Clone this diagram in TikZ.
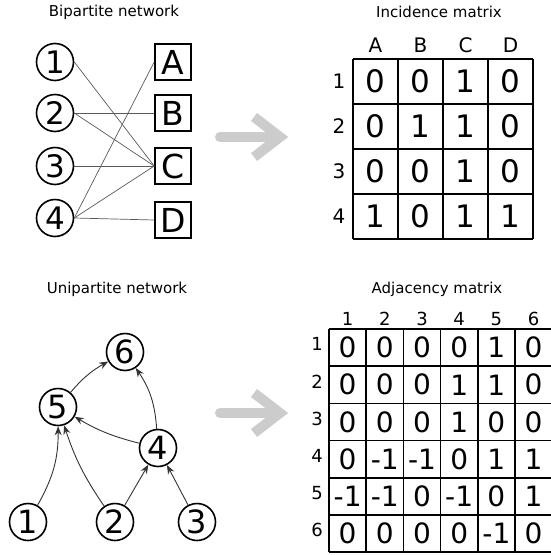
\documentclass[tikz,border=0pt]{standalone}
\usepackage{fontspec}
\setmainfont{DejaVu Sans}
\usetikzlibrary{arrows.meta}
\tikzset{
 title/.style={font=\fontsize{15}{17}\selectfont},
 lbl/.style={font=\fontsize{20}{22}\selectfont},
 slbl/.style={font=\fontsize{18}{20}\selectfont},
 bnode/.style={circle, draw, line width=1.6pt, minimum size=37pt, inner sep=0pt, font=\fontsize{31}{33}\selectfont},
 unode/.style={circle, draw, line width=1.6pt, minimum size=37pt, inner sep=0pt, font=\fontsize{32}{34}\selectfont},
 bbox/.style={rectangle, draw, line width=1.6pt, minimum size=36pt, inner sep=0pt, font=\fontsize{33}{35}\selectfont},
 link/.style={draw=black!65, line width=.7pt},
 dlink/.style={draw=black!80, line width=.9pt, -{Stealth[length=9pt,width=7pt]}},
 gline/.style={line width=1.6pt},
 cell/.style={font=\fontsize{31}{33}\selectfont},
 scell/.style={font=\fontsize{28}{30}\selectfont},
 bigarrow/.style={draw=black!20, line width=10pt}
}

\begin{document}
\begin{tikzpicture}[x=1pt, y=-1pt]
\useasboundingbox (0,0) rectangle (551,555);

% bipartite network
\node[title] (btitle) at (114,12) {Bipartite network};
\foreach \n/\y in {1/62,2/113,3/166,4/218}
 \node[bnode] (p\n) at (55,\y) {\n};
\foreach \n/\y in {A/62,B/113,C/166,D/220}
 \node[bbox] (q\n) at (173,\y) {\n};
\foreach \a/\b in {1/C,2/B,2/C,3/C,4/A,4/C,4/D}
 \draw[link] (p\a.east) -- (q\b.west);

% grey arrows
\foreach \y in {137,413} {
 \draw[bigarrow, line cap=round] (220,\y) -- (276,\y);
 \draw[bigarrow, miter limit=10] (254,\y-20) -- (280,\y) -- (254,\y+20);
}

% incidence matrix
\node[title] (ititle) at (439,12) {Incidence matrix};
\foreach \c [count=\i] in {A,B,C,D}
 \node[lbl] (ic\i) at (353+45*\i-22.5,45) {\c};
\foreach \r in {1,...,4}
 \node[lbl] (ir\r) at (339,59+45*\r-23) {\r};
\foreach \k in {0,...,4} {
 \draw[gline] (353+45*\k,59) --++(0,180);
 \draw[gline] (353,59+45*\k) --++(180,0);
}
\foreach \r/\row in {1/{0,0,1,0},2/{0,1,1,0},3/{0,0,1,0},4/{1,0,1,1}}
 \foreach \v [count=\c] in \row
  \node[cell] (i\r\c) at (353+45*\c-22.5,59+45*\r-22.5) {\v};

% unipartite network
\node[title] (utitle) at (117,289) {Unipartite network};
\node[unode] (u1) at (28,522) {1};
\node[unode] (u2) at (115,522) {2};
\node[unode] (u3) at (197,522) {3};
\node[unode] (u4) at (158,448) {4};
\node[unode] (u5) at (58,407) {5};
\node[unode] (u6) at (125,352) {6};
\draw[dlink] (u1) to[bend right=15] (u5);
\draw[dlink] (u2) to[bend left=8] (u5);
\draw[dlink] (u2) -- (u4);
\draw[dlink] (u3) -- (u4);
\draw[dlink] (u4) to[bend left=8] (u5);
\draw[dlink] (u4) to[bend right=15] (u6);
\draw[dlink] (u5) to[bend left=10] (u6);

% adjacency matrix
\node[title] (atitle) at (437,289) {Adjacency matrix};
\foreach \i in {1,...,6} {
 \node[slbl] (ac\i) at (329+37.2*\i-18.6,319) {\i};
 \node[slbl] (ar\i) at (317,329+37.2*\i-22) {\i};
}
\foreach \k in {0,...,6} {
 \draw[gline] (329+37.2*\k,329) --++(0,223.2);
 \draw[gline] (329,329+37.2*\k) --++(223.2,0);
}
\foreach \r/\row in {1/{0,0,0,0,1,0},2/{0,0,0,1,1,0},3/{0,0,0,1,0,0},4/{0,-1,-1,0,1,1},5/{-1,-1,0,-1,0,1},6/{0,0,0,0,-1,0}}
 \foreach \v [count=\c] in \row
  \node[scell] (a\r\c) at (329+37.2*\c-18.6,329+37.2*\r-18.6) {\v};
\end{tikzpicture}
\end{document}
